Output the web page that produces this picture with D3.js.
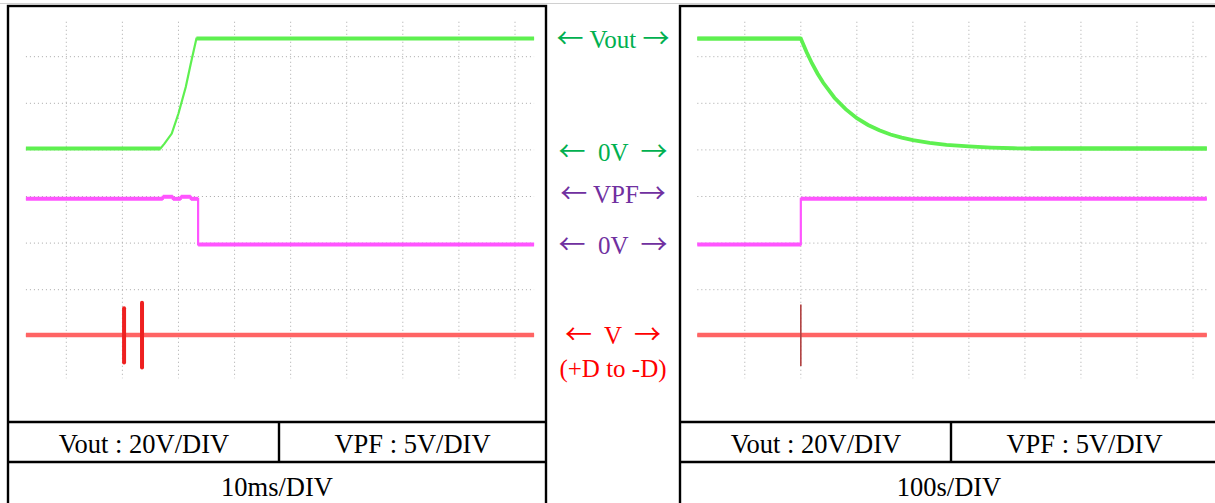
<!DOCTYPE html>
<html>
<head>
<meta charset="utf-8">
<script src="https://cdn.jsdelivr.net/npm/d3@7"></script>
<style>
  body { margin: 0; background: #fff; }
  svg { display: block; }
  text { font-family: "Liberation Serif", "Times New Roman", serif; }
</style>
</head>
<body>
<svg id="chart" width="1215" height="503"></svg>
<script>
// fast capture (10ms/DIV): [time ms, volts]
var voutFast = [[-7.2,0],[16.8,0],[17.5,2.1],[18.8,6.4],[20.0,15.0],[21.3,26.4],[22.2,36.5],[23.2,47.2],[83.4,47.2]];
var vpfFast = [[-7.2,4.9],[17.2,4.9],[17.2,5.12],[19.0,5.12],[19.0,4.9],[20.4,4.9],[20.4,5.12],[22.2,5.12],[22.2,4.9],[23.5,4.9],[23.5,0],[83.4,0]];
var vFast = [[-7.2,0],[83.4,0]];
// V spikes: [time, top DIV, bottom DIV]
var spikesFast = [[10.3,0.57,-0.59],[13.5,0.69,-0.70]];

// slow capture (100s/DIV): [time s, volts]
var voutSlow = [[-84.7,47.2],[100,47.2],[110,41.5],[120,36.5],[130,32.1],[140,28.2],[160,21.8],[180,16.9],[200,13.0],
  [220,10.1],[240,7.8],[260,6.0],[280,4.7],[300,3.6],[330,2.4],[360,1.6],[400,0.9],[440,0.4],[480,0.1],[510,0],[824.6,0]];
var vpfSlow = [[-84.7,0],[100,0],[100,4.9],[824.6,4.9]];
var vSlow = [[-84.7,0],[824.6,0]];
var spikesSlow = [[100,0.65,-0.67]];

var fastTicks = [0,10,20,30,40,50,60,70,80];
var slowTicks = [0,100,200,300,400,500,600,700,800];
var divTicks = [0,1,2,3,4,5,6];

var midLabels = [
  {text: "\u2190 Vout \u2192", ch: "vout", v: 47.2, color: "#00b050"},
  {text: "\u2190  0V  \u2192", ch: "vout", v: -1.5, color: "#00b050"},
  {text: "\u2190 VPF\u2192", ch: "vpf", v: 5.4, color: "#7030a0"},
  {text: "\u2190  0V  \u2192", ch: "vpf", v: -0.1, color: "#7030a0"},
  {text: "\u2190  V  \u2192", ch: "v", v: 0, color: "#ff0000"},
  {text: "(+D to -D)", ch: "v", v: -0.72, color: "#ff0000"}
];
var scaleLabels = ["Vout : 20V/DIV", "VPF : 5V/DIV"];
var timeLabels = ["10ms/DIV", "100s/DIV"];

// scope channel settings: zero position (DIV) and volts per DIV
var channels = {
  vout: {offset: 4.03, perDiv: 20, color: "#5ef050"},
  vpf:  {offset: 1.97, perDiv: 5,  color: "#ff55ff"},
  v:    {offset: 0.03, perDiv: 1,  color: "#ff6464"}
};

var svg = d3.select("#chart");
var yDiv = d3.scaleLinear().domain([0, 6]).range([336.3, 56.7]);

var panels = [
  {x0: 8, x: d3.scaleLinear().domain([0, 80]).range([66.3, 515]), ticks: fastTicks, span: [-7.2, 83.4],
   vout: voutFast, vpf: vpfFast, v: vFast, spikes: spikesFast, spikeW: 4, spikeC: "#ee2020", time: timeLabels[0]},
  {x0: 680, x: d3.scaleLinear().domain([0, 800]).range([744.8, 1193]), ticks: slowTicks, span: [-84.7, 824.6],
   vout: voutSlow, vpf: vpfSlow, v: vSlow, spikes: spikesSlow, spikeW: 1.6, spikeC: "#b04040", time: timeLabels[1]}
];

function yOf(ch, v) {
  return yDiv(channels[ch].offset + v / channels[ch].perDiv);
}

// faint rule above the frames
svg.append("line").attr("x1", 0).attr("x2", 1215).attr("y1", 3.5).attr("y2", 3.5)
  .attr("stroke", "#d0d0d0").attr("stroke-width", 1);

panels.forEach(function (p) {
  var g = svg.append("g");
  var x = p.x;

  // dotted grid
  g.selectAll(".vg").data(p.ticks).enter().append("line")
    .attr("x1", function (d) { return x(d); }).attr("x2", function (d) { return x(d); })
    .attr("y1", yDiv(6.75)).attr("y2", yDiv(-0.9))
    .attr("stroke", "#a8a8a8").attr("stroke-width", 1).attr("stroke-dasharray", "1,3");
  g.selectAll(".hg").data(divTicks).enter().append("line")
    .attr("x1", x(p.span[0])).attr("x2", x(p.span[1]))
    .attr("y1", function (d) { return yDiv(d); }).attr("y2", function (d) { return yDiv(d); })
    .attr("stroke", "#a8a8a8").attr("stroke-width", 1).attr("stroke-dasharray", "1,3");

  // traces
  ["v", "vpf", "vout"].forEach(function (ch) {
    var pts = p[ch];
    var line = d3.line()
      .x(function (d) { return x(d[0]); })
      .y(function (d) { return yOf(ch, d[1]); });
    g.append("path").attr("d", line(pts))
      .attr("fill", "none").attr("stroke", channels[ch].color)
      .attr("stroke-width", ch === "vout" && p.x0 > 100 ? 3.8 : 2.2);
    // flat runs look thicker on the scope
    for (var i = 1; i < pts.length; i++) {
      if (pts[i][1] === pts[i - 1][1]) {
        g.append("line")
          .attr("x1", x(pts[i - 1][0])).attr("x2", x(pts[i][0]))
          .attr("y1", yOf(ch, pts[i][1])).attr("y2", yOf(ch, pts[i][1]))
          .attr("stroke", channels[ch].color).attr("stroke-width", ch === "v" ? 4.5 : 4);
      }
    }
    if (ch === "v") {
      g.selectAll(".spike").data(p.spikes).enter().append("line")
        .attr("x1", function (d) { return x(d[0]); }).attr("x2", function (d) { return x(d[0]); })
        .attr("y1", function (d) { return yOf("v", d[1]); })
        .attr("y2", function (d) { return yOf("v", d[2]); })
        .attr("stroke", p.spikeC).attr("stroke-width", p.spikeW)
        .attr("stroke-linecap", p.spikeW > 2 ? "round" : "butt");
    }
  });

  // frame and table
  g.append("rect").attr("x", p.x0).attr("y", 6).attr("width", 538).attr("height", 520)
    .attr("fill", "none").attr("stroke", "#000").attr("stroke-width", 2.4);
  [422, 462].forEach(function (yy) {
    g.append("line").attr("x1", p.x0).attr("x2", p.x0 + 538).attr("y1", yy).attr("y2", yy)
      .attr("stroke", "#000").attr("stroke-width", 2.4);
  });
  g.append("line").attr("x1", p.x0 + 271).attr("x2", p.x0 + 271).attr("y1", 422).attr("y2", 462)
    .attr("stroke", "#000").attr("stroke-width", 2.4);
  g.append("text").attr("x", p.x0 + 136).attr("y", 453).attr("text-anchor", "middle")
    .attr("font-size", 26.5).text(scaleLabels[0]);
  g.append("text").attr("x", p.x0 + 404.5).attr("y", 453).attr("text-anchor", "middle")
    .attr("font-size", 26.5).text(scaleLabels[1]);
  g.append("text").attr("x", p.x0 + 269).attr("y", 496).attr("text-anchor", "middle")
    .attr("font-size", 26.5).text(p.time);
});

// centre labels between the two captures; arrows set in a font with long, thin arrows
var isArrow = function (s) { return /[\u2190\u2192]/.test(s); };
var mid = svg.selectAll(".mid").data(midLabels).enter().append("text")
  .attr("x", 613)
  .attr("y", function (d) { return yOf(d.ch, d.v) + 9; })
  .attr("text-anchor", "middle")
  .attr("font-size", 25)
  .attr("fill", function (d) { return d.color; })
  .style("white-space", "pre");
mid.selectAll("tspan")
  .data(function (d) { return d.text.split(/([\u2190\u2192])/).filter(function (s) { return s !== ""; }); })
  .enter().append("tspan")
  .style("font-family", function (s) { return isArrow(s) ? "'Noto Sans CJK JP', 'DejaVu Sans', sans-serif" : null; })
  .attr("font-size", function (s) { return isArrow(s) ? 27 : null; })
  .text(function (s) { return s; });
</script>
</body>
</html>
